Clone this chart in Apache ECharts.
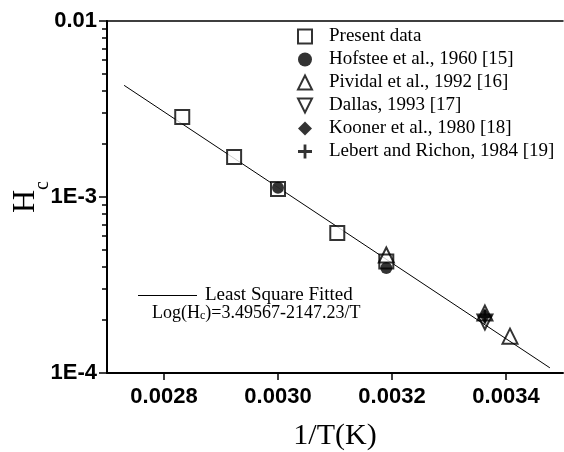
<!DOCTYPE html>
<html>
<head>
<meta charset="utf-8">
<script src="https://cdn.jsdelivr.net/npm/echarts@6/dist/echarts.min.js"></script>
<style>
  html, body { margin: 0; padding: 0; background: #fff; }
  #chart { width: 564px; height: 452px; }
</style>
</head>
<body>
<div id="chart"></div>
<script>
// x ticks (1/T) and y ticks (log Hc)
const xTickValues = [0.0028, 0.0030, 0.0032, 0.0034];
const xTickLabels = ['0.0028', '0.0030', '0.0032', '0.0034'];
const yTickLabels = ['1E-4', '1E-3', '0.01'];
const yMinorTicks = [
  0.0002, 0.0003, 0.0004, 0.0005, 0.0006, 0.0007, 0.0008, 0.0009,
  0.002, 0.003, 0.004, 0.005, 0.006, 0.007, 0.008, 0.009,
];

// series, [1/T, Hc]
const presentData = [[0.002832, 0.00285], [0.002923, 0.00169], [0.0030, 0.00111], [0.003104, 0.000625], [0.00319, 0.00043]];
const hofstee = [[0.0030, 0.00113], [0.00319, 0.000395]];
const pividal = [[0.00319, 0.000468], [0.003363, 0.000219], [0.003407, 0.000162]];
const dallas = [[0.003363, 0.000195]];
const kooner = [[0.003363, 0.000211]];
const lebert = [[0.003363, 0.000209]];
// fitted line end points
const fitLine = [[0.00273, 0.00431], [0.003477, 0.000107]];

const black = '#000';
const serif = 'Liberation Serif';
const sans = 'Liberation Sans';
const plusPath = 'path://M4,0H6V4H10V6H6V10H4V6H0V4H4Z';
const downTriPath = 'path://M0,0L10,0L5,10Z';

const chart = echarts.init(document.getElementById('chart'));

chart.setOption({
  backgroundColor: '#fff',
  animation: false,
  grid: { left: 107, right: 1, top: 21, bottom: 79, outerBoundsMode: 'none' },
  legend: [
    {
      // 文献データの凡例
      orient: 'vertical',
      left: 292,
      top: 22,
      itemWidth: 14,
      itemHeight: 14,
      itemGap: 4,
      selectedMode: false,
      data: ['Present data', 'Hofstee et al., 1960 [15]', 'Pividal et al., 1992 [16]',
        'Dallas, 1993 [17]', 'Kooner et al., 1980 [18]', 'Lebert and Richon, 1984 [19]'],
      textStyle: { fontFamily: serif, fontSize: 19, color: black, padding: [0, 0, 0, 12] },
    },
    {
      // 近似線
      left: 133,
      top: 281,
      icon: 'rect',
      itemWidth: 59,
      itemHeight: 1.2,
      selectedMode: false,
      data: ['Least Square Fitted'],
      itemStyle: { color: black },
      textStyle: { fontFamily: serif, fontSize: 19, color: black, padding: [0, 0, 0, 3] },
    },
  ],
  graphic: [
    {
      type: 'text',
      left: 152,
      top: 304,
      style: {
        text: 'Log(H{c|c})=3.49567-2147.23/T',
        fontFamily: serif,
        fontSize: 18,
        fill: black,
        rich: {
          c: { fontFamily: serif, fontSize: 12, verticalAlign: 'bottom', lineHeight: 10 },
        },
      },
    },
  ],
  xAxis: [
    {
      type: 'value',
      min: 0.0027,
      max: 0.0035,
      name: '1/T(K)',
      nameLocation: 'middle',
      nameGap: 48,
      nameMoveOverlap: false,
      nameTextStyle: { fontFamily: serif, fontSize: 30, color: black },
      axisLine: { show: true, lineStyle: { color: black, width: 2 } },
      axisTick: { show: true, customValues: xTickValues, length: 7, lineStyle: { color: black, width: 1.5 } },
      axisLabel: {
        customValues: xTickValues,
        formatter: (v) => xTickLabels[xTickValues.findIndex((t) => Math.abs(t - v) < 1e-9)],
        fontFamily: sans,
        fontWeight: 'bold',
        fontSize: 22,
        color: black,
        margin: 13,
      },
      splitLine: { show: false },
    },
    {
      // 上枠線
      type: 'value',
      position: 'top',
      min: 0.0027,
      max: 0.0035,
      axisLine: { show: true, lineStyle: { color: black, width: 1.5 } },
      axisTick: { show: false },
      axisLabel: { show: false },
      splitLine: { show: false },
    },
  ],
  yAxis: [
    {
      type: 'log',
      logBase: 10,
      min: 0.0001,
      max: 0.01,
      interval: 1,
      name: '{h|H}{c|c}',
      nameLocation: 'middle',
      nameGap: 54,
      nameMoveOverlap: false,
      nameTextStyle: {
        color: black,
        rich: {
          h: { fontFamily: serif, fontSize: 32, padding: [0, 0, 11, 0], color: black },
          c: { fontFamily: serif, fontSize: 20, verticalAlign: 'bottom', color: black },
        },
      },
      axisLine: { show: true, lineStyle: { color: black, width: 2 } },
      axisTick: { show: true, length: 8, lineStyle: { color: black, width: 1.5 } },
      axisLabel: {
        formatter: (v) => yTickLabels[Math.round(Math.log10(v)) + 4],
        fontFamily: sans,
        fontWeight: 'bold',
        fontSize: 22,
        color: black,
        margin: 10,
      },
      splitLine: { show: false },
    },
    {
      // 補助目盛り (log10 空間)
      type: 'value',
      position: 'left',
      min: -4,
      max: -2,
      axisLine: { show: false },
      axisTick: {
        show: true,
        customValues: yMinorTicks.map((v) => Math.log10(v)),
        length: 5,
        lineStyle: { color: black, width: 1.5 },
      },
      axisLabel: { show: false },
      splitLine: { show: false },
    },
  ],
  series: [
    {
      name: 'Least Square Fitted',
      type: 'line',
      data: fitLine,
      symbol: 'none',
      lineStyle: { color: black, width: 1 },
      itemStyle: { color: black },
      z: 1,
    },
    {
      name: 'Present data',
      type: 'scatter',
      data: presentData,
      symbol: 'rect',
      symbolSize: 14,
      itemStyle: { color: '#fff', borderColor: black, borderWidth: 2 },
      z: 2,
    },
    {
      name: 'Hofstee et al., 1960 [15]',
      type: 'scatter',
      data: hofstee,
      symbol: 'circle',
      symbolSize: 12,
      itemStyle: { color: black },
      z: 3,
    },
    {
      name: 'Pividal et al., 1992 [16]',
      type: 'scatter',
      data: pividal,
      symbol: 'triangle',
      symbolSize: 15,
      itemStyle: { color: 'rgba(255,255,255,0)', borderColor: black, borderWidth: 2 },
      z: 4,
    },
    {
      name: 'Dallas, 1993 [17]',
      type: 'scatter',
      data: dallas,
      symbol: downTriPath,
      symbolSize: 15,
      itemStyle: { color: 'rgba(255,255,255,0)', borderColor: black, borderWidth: 2 },
      z: 4,
    },
    {
      name: 'Kooner et al., 1980 [18]',
      type: 'scatter',
      data: kooner,
      symbol: 'diamond',
      symbolSize: [11, 15],
      itemStyle: { color: black },
      z: 5,
    },
    {
      name: 'Lebert and Richon, 1984 [19]',
      type: 'scatter',
      data: lebert,
      symbol: plusPath,
      symbolSize: 14,
      itemStyle: { color: black },
      z: 5,
    },
  ],
});
</script>
</body>
</html>
